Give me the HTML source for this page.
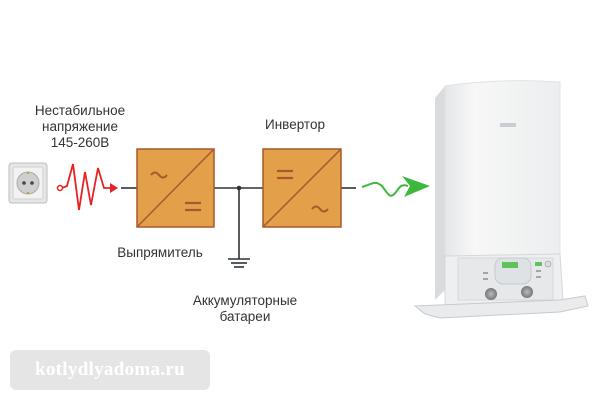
<!DOCTYPE html>
<html><head><meta charset="utf-8"><style>
body{margin:0;width:600px;height:400px;background:#fff;position:relative;overflow:hidden;font-family:"Liberation Sans","DejaVu Sans",sans-serif;color:#333}
.t{position:absolute;font-size:13px;text-align:center;line-height:16px;color:#333}
.wm{position:absolute;left:10px;top:350px;width:200px;height:40px;background:#e5e5e5;border-radius:6px;color:#fff;font:bold 19px "Liberation Serif","DejaVu Serif",serif;line-height:40px;text-align:center;letter-spacing:0.3px}
</style></head><body>
<svg width="600" height="400" style="position:absolute;left:0;top:0">
<defs>
<linearGradient id="bg" x1="0" x2="1"><stop offset="0" stop-color="#e4e6e8"/><stop offset="0.25" stop-color="#f7f7f7"/><stop offset="1" stop-color="#eceeef"/></linearGradient>
<radialGradient id="kn"><stop offset="0" stop-color="#bbb"/><stop offset="1" stop-color="#777"/></radialGradient>
</defs>
<!-- socket -->
<rect x="9" y="163" width="38" height="40" rx="3" fill="#e6e6e6" stroke="#bdbdbd"/>
<rect x="13" y="167" width="30" height="32" rx="2" fill="#f2f2f2" stroke="#d0d0d0"/>
<circle cx="28" cy="183" r="11" fill="#cfcfcf" stroke="#aaa"/>
<circle cx="24" cy="183" r="1.8" fill="#444"/><circle cx="32" cy="183" r="1.8" fill="#444"/>
<rect x="27" y="172" width="2" height="2" fill="#c8a030"/><rect x="27" y="192" width="2" height="2" fill="#c8a030"/>
<!-- red -->
<circle cx="60" cy="188" r="2.5" fill="none" stroke="#e52222" stroke-width="1.5"/>
<polyline points="62,188 67,186 73,164 79,210 85,172 91,205 98,168 104,188 112,188" fill="none" stroke="#e52222" stroke-width="1.8"/>
<polygon points="110,183 118,188 110,193" fill="#e52222"/>
<!-- lines -->
<g stroke="#2d3338" stroke-width="1.6" fill="none">
<line x1="121" y1="188" x2="137" y2="188"/>
<line x1="214" y1="188" x2="263" y2="188"/>
<line x1="341" y1="188" x2="356" y2="188"/>
<line x1="239" y1="188" x2="239" y2="259"/>
<line x1="228" y1="259" x2="250" y2="259"/>
<line x1="231" y1="263" x2="247" y2="263"/>
<line x1="234" y1="267" x2="244" y2="267"/>
</g>
<circle cx="239" cy="188" r="2.3" fill="#2d3338"/>
<!-- boxes -->
<g stroke="#a8582a" stroke-width="1.5" fill="#e3a04a">
<rect x="137" y="149" width="77" height="78"/>
<rect x="263" y="149" width="78" height="78"/>
</g>
<g stroke="#a8582a" stroke-width="1.5" fill="none">
<line x1="137" y1="227" x2="214" y2="149"/><line x1="263" y1="227" x2="341" y2="149"/>
<path d="M151,175 q4,-5 8,0 t8,0" stroke-width="2"/>
<line x1="185" y1="203" x2="201" y2="203" stroke-width="2.2"/><line x1="185" y1="210" x2="201" y2="210" stroke-width="2.2"/>
<line x1="277" y1="171" x2="293" y2="171" stroke-width="2.2"/><line x1="277" y1="178" x2="293" y2="178" stroke-width="2.2"/>
<path d="M312,209 q4,-5 8,0 t8,0" stroke-width="2"/>
</g>
<!-- green -->
<path d="M362,187 C372,184 375,180 382,186 C388,194 390,200 396,192 C400,186 402,184 408,186" fill="none" stroke="#3db83d" stroke-width="2"/>
<polygon points="402,176 430,186 404,197 410,186" fill="#3db83d"/>
<!-- boiler -->
<path d="M435,98 L445,86 L445,290 L435,300 Z" fill="#d9dcde"/>
<path d="M445,86 Q500,78 560,82 L560,256 L445,258 Z" fill="url(#bg)" stroke="#e0e2e4"/>
<rect x="500" y="123" width="16" height="4" fill="#c9ccd0"/>
<path d="M445,256 L560,254 L563,300 L445,305 Z" fill="#eeeff0" stroke="#d5d7d9"/>
<rect x="458" y="258" width="95" height="42" fill="#e6e8ea" stroke="#d5d8da"/>
<rect x="495" y="258" width="36" height="26" rx="8" fill="#dfe2e4" stroke="#c6c9cc"/>
<rect x="502" y="262" width="16" height="6" fill="#5fc25a"/>
<rect x="535" y="262" width="7" height="4" fill="#5fc25a"/>
<circle cx="548" cy="264" r="3" fill="#ddd" stroke="#999" stroke-width="0.6"/>
<g fill="#9aa"><rect x="483" y="272" width="5" height="2"/><rect x="483" y="278" width="5" height="2"/><rect x="536" y="270" width="5" height="2"/><rect x="536" y="276" width="5" height="2"/></g>
<circle cx="491" cy="294" r="6" fill="url(#kn)"/><circle cx="527" cy="292" r="6" fill="url(#kn)"/>
<path d="M415,306 L560,300 L585,296 L588,306 L560,312 L440,318 L425,314 Z" fill="#e9ebec" stroke="#c8cbce"/>
</svg>
<div class="t" style="left:20px;top:103px;width:120px;font-size:13.5px">Нестабильное<br>напряжение<br>145-260В</div>
<div class="t" style="left:255px;top:117px;width:80px;font-size:13.5px">Инвертор</div>
<div class="t" style="left:105px;top:245px;width:110px;font-size:13.5px">Выпрямитель</div>
<div class="t" style="left:175px;top:293px;width:140px;font-size:13.5px">Аккумуляторные<br>батареи</div>
<div class="wm">kotlydlyadoma.ru</div>
</body></html>
